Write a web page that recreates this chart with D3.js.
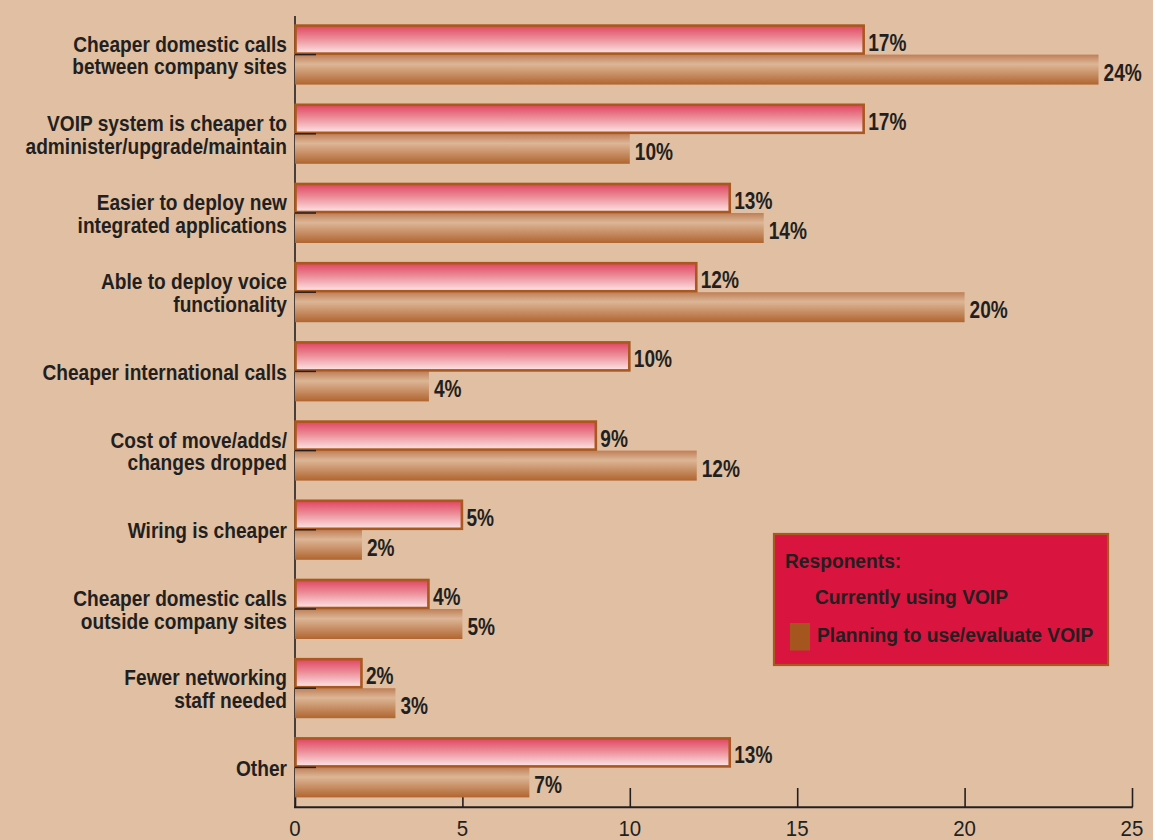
<!DOCTYPE html>
<html>
<head>
<meta charset="utf-8">
<script src="https://cdn.jsdelivr.net/npm/d3@7"></script>
<style>
  html, body { margin: 0; padding: 0; background: #ffffff; }
  svg { display: block; }
  text { font-family: "Liberation Sans", Arial, sans-serif; }
</style>
</head>
<body>
<svg id="chart" width="1159" height="840"></svg>
<script>
// Reasons for adopting VOIP, % of respondents
const categories = [
  ["Cheaper domestic calls", "between company sites"],
  ["VOIP system is cheaper to", "administer/upgrade/maintain"],
  ["Easier to deploy new", "integrated applications"],
  ["Able to deploy voice", "functionality"],
  ["Cheaper international calls"],
  ["Cost of move/adds/", "changes dropped"],
  ["Wiring is cheaper"],
  ["Cheaper domestic calls", "outside company sites"],
  ["Fewer networking", "staff needed"],
  ["Other"]
];
const currentlyUsing = [17, 17, 13, 12, 10, 9, 5, 4, 2, 13];
const planningToUse  = [24, 10, 14, 20, 4, 12, 2, 5, 3, 7];
const xTicks = [0, 5, 10, 15, 20, 25];
const seriesNames = ["Currently using VOIP", "Planning to use/evaluate VOIP"];
const legendTitle = "Responents:";

const ink = "#231f20";
const svg = d3.select("#chart");

// condensed-looking text: regular face squeezed horizontally
function label(parent, px, py, str, opts) {
  return parent.append("text")
    .attr("transform", `translate(${px},${py}) scale(${opts.sx},1)`)
    .attr("font-size", opts.size)
    .attr("font-weight", opts.bold ? "bold" : "normal")
    .attr("text-anchor", opts.anchor || "start")
    .attr("fill", ink)
    .text(str);
}

// page background
svg.append("rect").attr("x", 0).attr("y", 0).attr("width", 1153).attr("height", 840).attr("fill", "#e0bfa3");

// gradients
const defs = svg.append("defs");
const gPink = defs.append("linearGradient").attr("id", "gPink").attr("x1", 0).attr("y1", 0).attr("x2", 0).attr("y2", 1);
[["0%", "#df4560"], ["45%", "#ec8b97"], ["100%", "#fde6e6"]].forEach(([o, c]) => gPink.append("stop").attr("offset", o).attr("stop-color", c));
const gBrown = defs.append("linearGradient").attr("id", "gBrown").attr("x1", 0).attr("y1", 0).attr("x2", 0).attr("y2", 1);
[["0%", "#bf7f57"], ["32%", "#dcb696"], ["100%", "#b0652f"]].forEach(([o, c]) => gBrown.append("stop").attr("offset", o).attr("stop-color", c));

const keys = categories.map((d, i) => i);
const x = d3.scaleLinear().domain([0, 25]).range([295, 1132]);
const y = d3.scaleBand().domain(keys).range([15, 807]).paddingInner(0.24).paddingOuter(0.12);
const mid = i => y(i) + y.bandwidth() / 2;   // boundary between the two bars

// axis lines
svg.append("line").attr("x1", 295).attr("x2", 295).attr("y1", 16).attr("y2", 808)
  .attr("stroke", ink).attr("stroke-width", 1.6);
svg.append("line").attr("x1", 294).attr("x2", 1132.8).attr("y1", 807.3).attr("y2", 807.3)
  .attr("stroke", ink).attr("stroke-width", 2);

// x ticks rise from the axis line
const xAxis = d3.axisTop(x).tickValues(xTicks).tickSize(19).tickFormat("");
svg.append("g").attr("transform", "translate(0,807)").call(xAxis)
  .call(g => g.select(".domain").remove())
  .call(g => g.selectAll(".tick line").attr("stroke", ink).attr("stroke-width", 1.6));

// x tick labels
const xl = svg.append("g");
xTicks.forEach(v => label(xl, x(v), 835.5, v, { size: 22, sx: 0.93, anchor: "middle" }));

// brown bars (planning)
svg.append("g").selectAll("rect").data(keys).join("rect")
  .attr("x", x(0))
  .attr("y", i => mid(i))
  .attr("width", i => x(planningToUse[i]) - x(0))
  .attr("height", 30)
  .attr("fill", "url(#gBrown)");

// pink bars (current)
svg.append("g").selectAll("rect").data(keys).join("rect")
  .attr("x", x(0) + 0.5)
  .attr("y", i => mid(i) - 29)
  .attr("width", i => x(currentlyUsing[i]) - x(0) - 1)
  .attr("height", 28)
  .attr("fill", "url(#gPink)")
  .attr("stroke", "#a9581f").attr("stroke-width", 2.6);

// y ticks at each category boundary
svg.append("g").selectAll("line").data(keys).join("line")
  .attr("x1", 295).attr("x2", 316)
  .attr("y1", i => mid(i)).attr("y2", i => mid(i))
  .attr("stroke", ink).attr("stroke-width", 1.5);

// value labels
const vl = svg.append("g");
keys.forEach(i => {
  label(vl, x(currentlyUsing[i]) + 4, mid(i) - 4, currentlyUsing[i] + "%", { size: 23, sx: 0.83, bold: true });
  label(vl, x(planningToUse[i]) + 5, mid(i) + 26, planningToUse[i] + "%", { size: 23, sx: 0.83, bold: true });
});

// category labels
const cl = svg.append("g");
keys.forEach(i => {
  const lines = categories[i];
  const lh = 22.5;
  lines.forEach((ln, k) => {
    const off = (k - (lines.length - 1) / 2) * lh;
    label(cl, 287, mid(i) + 8.5 + off, ln, { size: 22, sx: 0.87, bold: true, anchor: "end" });
  });
});

// legend
const lg = svg.append("g");
lg.append("rect").attr("x", 774).attr("y", 534).attr("width", 334).attr("height", 131)
  .attr("fill", "#d8143f").attr("stroke", "#a9581f").attr("stroke-width", 2.2);
label(lg, 785, 567.5, legendTitle, { size: 20, sx: 0.96, bold: true });
label(lg, 815, 604, seriesNames[0], { size: 20, sx: 0.96, bold: true });
lg.append("rect").attr("x", 790).attr("y", 623).attr("width", 20).attr("height", 27.5).attr("fill", "#a5561e");
label(lg, 817, 641.5, seriesNames[1], { size: 20, sx: 0.96, bold: true });
</script>
</body>
</html>
